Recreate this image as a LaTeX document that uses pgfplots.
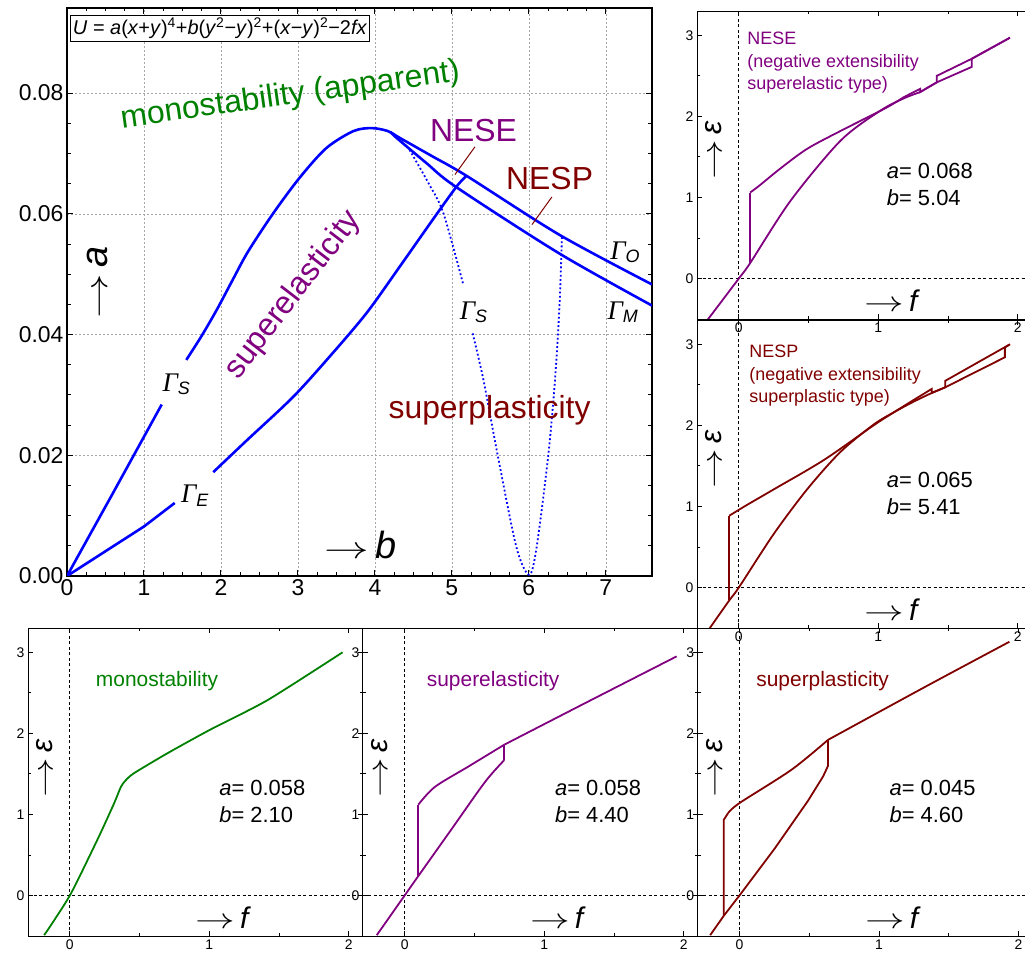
\documentclass[border=0pt]{standalone}
\usepackage{fontspec}
\setmainfont{Liberation Sans}
\newfontfamily\tnr{Liberation Serif}
\usepackage{pgfplots}
\pgfplotsset{compat=1.18}
\definecolor{mgreen}{RGB}{0,128,0}
\definecolor{mpurple}{RGB}{128,0,128}
\definecolor{mred}{RGB}{128,0,0}
\newcommand{\fs}[2]{\fontsize{#1}{#2}\selectfont}
\newcommand{\Gam}[1]{{\tnr\itshape\fs{27}{27}Γ}\raisebox{-0.32em}{\itshape\fs{18}{18}#1}}
\newcommand{\arr}{\scalebox{1.6}[1.15]{$\rightarrow$}}
\newcommand{\Arr}{\scalebox{1.8}[1.25]{$\rightarrow$}}
\tikzset{
  zl/.style={dash pattern=on 3bp off 2.5bp, line width=0.8bp},
  cv/.style={line width=1.8bp},
}
\pgfplotsset{
  panel/.style={anchor=south west, scale only axis, width=334.8bp, height=308bp,
    xmin=-0.3, xmax=2.1, ymin=-0.5, ymax=3.3, xtick={0,1,2}, ytick={0,1,2,3},
    minor tick num=1, tick align=inside, major tick length=5bp, minor tick length=3bp,
    ticklabel style={font=\fs{14}{14}},
    axis line style={line width=0.9bp}, every tick/.style={black, line width=0.8bp},
    /pgf/number format/assume math mode=true, clip=true},
}
\begin{document}
\begin{tikzpicture}
\path[use as bounding box] (0,0) rectangle (1025bp,958bp);
% ---------------- main panel ----------------
\begin{axis}[at={(67bp,382bp)}, anchor=south west, scale only axis, width=585bp, height=568bp,
  xmin=0, xmax=7.6, ymin=0, ymax=0.0941, xtick={0,1,2,3,4,5,6,7}, ytick={0,0.02,0.04,0.06,0.08},
  scaled y ticks=false, minor x tick num=3, minor y tick num=3, tick align=inside,
  major tick length=6bp, minor tick length=3.5bp, grid=major,
  major grid style={gray!70, dash pattern=on 2bp off 2bp, line width=0.5bp},
  axis line style={line width=1.3bp}, every tick/.style={black, line width=1bp},
  ticklabel style={font=\fs{23}{23}},
  yticklabel style={/pgf/number format/fixed, /pgf/number format/fixed zerofill, /pgf/number format/precision=2},
  /pgf/number format/assume math mode=true, clip=true]
% Gamma_S left, lower part
\addplot[blue, line width=2.6bp] coordinates {(0,0) (0.6,0.0138) (1.23,0.0284)};
% Gamma_S upper part, peak and Gamma_O
\addplot[blue, line width=2.6bp, smooth] coordinates {(1.55,0.0358) (1.75,0.0398) (1.95,0.0442) (2.15,0.0490) (2.35,0.0537) (2.68,0.0601) (3.03,0.0661) (3.37,0.0709) (3.72,0.0737) (3.96,0.0742) (4.17,0.0737) (4.32,0.0726) (4.75,0.0695) (5.19,0.0663) (6.40,0.0565) (7.6,0.0483)};
% Gamma_M
\addplot[blue, line width=2.6bp, smooth] coordinates {(4.20,0.0736) (4.28,0.0726) (4.67,0.0684) (5.06,0.0644) (6.40,0.0534) (7.6,0.0448)};
% Gamma_E
\addplot[blue, line width=2.6bp] coordinates {(0,0) (1.0,0.0082) (1.40,0.0121)};
\addplot[blue, line width=2.6bp, smooth] coordinates {(1.90,0.0172) (2.33,0.0224) (2.94,0.0297) (3.45,0.0369) (3.90,0.0437) (4.32,0.0512) (4.75,0.0590) (5.06,0.0645) (5.19,0.0663)};
% dotted Gamma_S
\addplot[blue, line width=1.8bp, dash pattern=on 1.8bp off 2.4bp, smooth] coordinates {(4.45,0.0706) (4.70,0.0650) (4.89,0.0601) (5.15,0.0482)};
\addplot[blue, line width=1.8bp, dash pattern=on 1.8bp off 2.4bp, smooth] coordinates {(5.27,0.0402) (5.41,0.0325) (5.60,0.0197) (5.84,0.0047) (6.005,0.0002) (6.10,0.0047) (6.25,0.0197) (6.34,0.0325) (6.40,0.0452) (6.43,0.0563)};
% leaders
\draw[mred, line width=1bp] (axis cs:5.04,0.0665) -- (axis cs:5.30,0.0711);
\draw[mred, line width=1bp] (axis cs:6.04,0.0582) -- (axis cs:6.30,0.0628);
% texts
\node[draw, fill=white, anchor=north west, inner sep=2.5bp, line width=0.8bp, font=\fs{20}{20}] at (axis cs:0.04,0.0930)
  {\textit{U} = \textit{a}(\textit{x}+\textit{y})\textsuperscript{4}+\textit{b}(\textit{y}\textsuperscript{2}−\textit{y})\textsuperscript{2}+(\textit{x}−\textit{y})\textsuperscript{2}−2\textit{fx}};
\node[mgreen, rotate=8, font=\fs{32}{32}] at (axis cs:2.90,0.0795) {monostability (apparent)};
\node[mpurple, rotate=52.5, font=\fs{32}{32}] at (axis cs:2.94,0.0465) {superelasticity};
\node[mred, font=\fs{32}{32}] at (axis cs:5.49,0.0274) {superplasticity};
\node[mpurple, font=\fs{32}{32}] at (axis cs:5.28,0.0738) {NESE};
\node[mred, font=\fs{32}{32}] at (axis cs:6.27,0.0658) {NESP};
\node[rotate=90, font=\fs{38}{38}] at (axis cs:0.40,0.0487) {\Arr\,\textit{a}};
\node[font=\fs{38}{38}] at (axis cs:3.81,0.0052) {\Arr\,\textit{b}};
\node at (axis cs:1.42,0.0318) {\Gam{S}};
\node at (axis cs:1.66,0.0133) {\Gam{E}};
\node at (axis cs:5.28,0.0437) {\Gam{S}};
\node at (axis cs:7.25,0.0536) {\Gam{O}};
\node at (axis cs:7.22,0.0437) {\Gam{M}};
\end{axis}
% ---------------- NESE panel ----------------
\begin{axis}[panel, at={(697bp,639bp)}]
\draw[zl] (axis cs:0,-0.5) -- (axis cs:0,3.3);
\draw[zl] (axis cs:-0.3,0) -- (axis cs:2.1,0);
\addplot[mpurple, cv, smooth] coordinates {(-0.224,-0.51) (0,0) (0.081,0.19) (0.371,0.96) (0.729,1.70) (1.014,2.07) (1.18,2.22) (1.30,2.30)};
\addplot[mpurple, cv] coordinates {(1.30,2.30) (1.419,2.42) (1.669,2.61) (1.669,2.71) (1.943,2.97)};
\addplot[mpurple, cv] coordinates {(1.943,2.97) (1.669,2.71) (1.419,2.50) (1.419,2.42) (1.30,2.30) (1.30,2.34) (1.18,2.235)};
\addplot[mpurple, cv, smooth] coordinates {(1.18,2.235) (1.05,2.10) (0.729,1.82) (0.49,1.60) (0.30,1.36) (0.15,1.15) (0.081,1.06)};
\addplot[mpurple, cv] coordinates {(0.081,1.06) (0.081,0.19)};
\node[mpurple, anchor=north west, align=left, inner sep=0pt, font=\fs{18}{22.5}] at (axis cs:0.06,3.04) {NESE\\(negative extensibility\\superelastic type)};
\node[anchor=west, align=left, inner sep=0pt, font=\fs{22}{27}] at (axis cs:1.06,1.165) {\textit{a}= 0.068\\\textit{b}= 5.04};
\node[font=\fs{30}{30}] at (axis cs:1.10,-0.28) {\arr\,\textit{f}};
\node[rotate=90, font=\fs{30}{30}] at (axis cs:-0.18,1.58) {\arr\,\textit{ε}};
\end{axis}
% ---------------- NESP panel ----------------
\begin{axis}[panel, at={(697bp,330bp)}]
\draw[zl] (axis cs:0,-0.5) -- (axis cs:0,3.3);
\draw[zl] (axis cs:-0.3,0) -- (axis cs:2.1,0);
\addplot[mred, cv, smooth] coordinates {(-0.212,-0.51) (-0.069,-0.16) (0,0) (0.25,0.66) (0.489,1.21) (0.727,1.67) (0.966,2.01) (1.11,2.16) (1.25,2.29) (1.383,2.40)};
\addplot[mred, cv] coordinates {(1.383,2.40) (1.48,2.47) (1.907,2.84) (1.907,2.96) (1.943,3.0)};
\addplot[mred, cv] coordinates {(1.943,3.0) (1.48,2.55) (1.48,2.47) (1.383,2.40) (1.383,2.45) (1.25,2.31)};
\addplot[mred, cv, smooth] coordinates {(1.25,2.31) (1.11,2.16) (0.966,2.00) (0.607,1.57) (0.25,1.21) (0.05,1.01) (-0.069,0.885)};
\addplot[mred, cv] coordinates {(-0.069,0.885) (-0.069,-0.16)};
\node[mred, anchor=north west, align=left, inner sep=0pt, font=\fs{18}{22.5}] at (axis cs:0.074,2.99) {NESP\\(negative extensibility\\superplastic type)};
\node[anchor=west, align=left, inner sep=0pt, font=\fs{22}{27}] at (axis cs:1.06,1.155) {\textit{a}= 0.065\\\textit{b}= 5.41};
\node[font=\fs{30}{30}] at (axis cs:1.10,-0.28) {\arr\,\textit{f}};
\node[rotate=90, font=\fs{30}{30}] at (axis cs:-0.18,1.58) {\arr\,\textit{ε}};
\end{axis}
% ---------------- bottom: monostability ----------------
\begin{axis}[panel, at={(28bp,22bp)}]
\draw[zl] (axis cs:0,-0.5) -- (axis cs:0,3.3);
\draw[zl] (axis cs:-0.3,0) -- (axis cs:2.1,0);
\addplot[mgreen, cv, smooth, tension=0.4] coordinates {(-0.184,-0.49) (0,0) (0.198,0.69) (0.318,1.14) (0.366,1.34) (0.40,1.42) (0.461,1.51) (0.70,1.755) (1.0,2.04) (1.417,2.41) (1.955,3.0)};
\node[mgreen, anchor=west, inner sep=0pt, font=\fs{21}{21}] at (axis cs:0.186,2.64) {monostability};
\node[anchor=west, align=left, inner sep=0pt, font=\fs{22}{27}] at (axis cs:1.07,1.16) {\textit{a}= 0.058\\\textit{b}= 2.10};
\node[font=\fs{30}{30}] at (axis cs:1.10,-0.27) {\arr\,\textit{f}};
\node[rotate=90, font=\fs{30}{30}] at (axis cs:-0.18,1.57) {\arr\,\textit{ε}};
\end{axis}
% ---------------- bottom: superelasticity ----------------
\begin{axis}[panel, at={(362.8bp,22bp)}]
\draw[zl] (axis cs:0,-0.5) -- (axis cs:0,3.3);
\draw[zl] (axis cs:-0.3,0) -- (axis cs:2.1,0);
\addplot[mpurple, cv, smooth] coordinates {(-0.2,-0.49) (0,0) (0.098,0.24) (0.337,0.82) (0.576,1.40) (0.714,1.67)};
\addplot[mpurple, cv] coordinates {(0.714,1.67) (0.714,1.86)};
\addplot[mpurple, cv, smooth] coordinates {(0.714,1.86) (1.29,2.37) (1.95,2.95)};
\addplot[mpurple, cv, smooth] coordinates {(0.714,1.86) (0.456,1.59) (0.217,1.34) (0.098,1.12)};
\addplot[mpurple, cv] coordinates {(0.098,1.12) (0.098,0.24)};
\node[mpurple, anchor=west, inner sep=0pt, font=\fs{21}{21}] at (axis cs:0.158,2.64) {superelasticity};
\node[anchor=west, align=left, inner sep=0pt, font=\fs{22}{27}] at (axis cs:1.077,1.16) {\textit{a}= 0.058\\\textit{b}= 4.40};
\node[font=\fs{30}{30}] at (axis cs:1.10,-0.28) {\arr\,\textit{f}};
\node[rotate=90, font=\fs{30}{30}] at (axis cs:-0.18,1.57) {\arr\,\textit{ε}};
\end{axis}
% ---------------- bottom: superplasticity ----------------
\begin{axis}[panel, at={(697.6bp,22bp)}]
\draw[zl] (axis cs:0,-0.5) -- (axis cs:0,3.3);
\draw[zl] (axis cs:-0.3,0) -- (axis cs:2.1,0);
\addplot[mred, cv] coordinates {(-0.21,-0.49) (-0.112,-0.25) (0,0) (0.253,0.58) (0.492,1.17) (0.60,1.47) (0.635,1.60) (0.635,1.92)};
\addplot[mred, cv, smooth] coordinates {(0.635,1.92) (1.327,2.57) (1.935,3.13)};
\addplot[mred, cv, smooth] coordinates {(0.635,1.92) (0.372,1.55) (0,1.14) (-0.081,1.017)};
\addplot[mred, cv] coordinates {(-0.081,1.017) (-0.112,0.935) (-0.112,-0.25)};
\node[mred, anchor=west, inner sep=0pt, font=\fs{21}{21}] at (axis cs:0.12,2.64) {superplasticity};
\node[anchor=west, align=left, inner sep=0pt, font=\fs{22}{27}] at (axis cs:1.075,1.16) {\textit{a}= 0.045\\\textit{b}= 4.60};
\node[font=\fs{30}{30}] at (axis cs:1.10,-0.28) {\arr\,\textit{f}};
\node[rotate=90, font=\fs{30}{30}] at (axis cs:-0.18,1.57) {\arr\,\textit{ε}};
\end{axis}
\end{tikzpicture}
\end{document}
